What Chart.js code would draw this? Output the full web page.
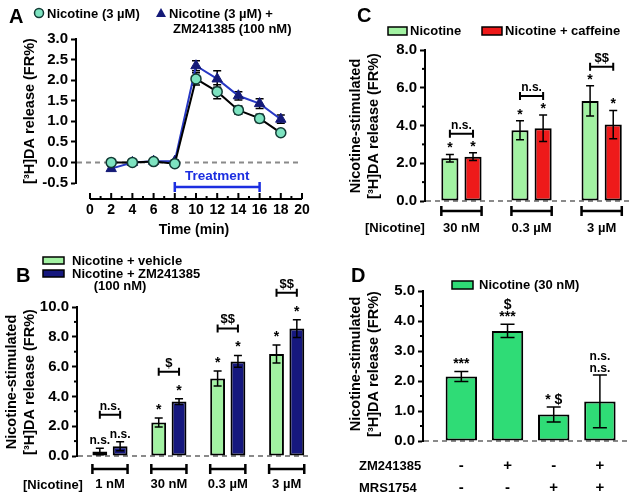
<!DOCTYPE html>
<html>
<head>
<meta charset="utf-8">
<script src="https://cdn.jsdelivr.net/npm/chart.js@4.4.0/dist/chart.umd.min.js"></script>
<style>
html, body { margin: 0; padding: 0; background: #fff; }
#wrap { position: relative; width: 629px; height: 498px; }
#wrap canvas { position: absolute; left: 0; top: 0; }
</style>
</head>
<body>
<div id="wrap">
	<canvas id="panelA" width="629" height="498"></canvas>
	<canvas id="panelB" width="629" height="498"></canvas>
	<canvas id="panelC" width="629" height="498"></canvas>
	<canvas id="panelD" width="629" height="498"></canvas>
</div>
<script>
// ---- data ----
// A: time course
var timeMin = [2, 4, 6, 8, 10, 12, 14, 16, 18];
var timeTicks = [0, 2, 4, 6, 8, 10, 12, 14, 16, 18, 20];
var nicotineA = [0.0, 0.0, 0.02, -0.03, 2.03, 1.72, 1.27, 1.07, 0.72];
var nicotineAErr = [0.03, 0.03, 0.03, 0.03, 0.15, 0.17, 0.10, 0.10, 0.05];
var zmA = [-0.15, 0.0, 0.03, 0.03, 2.35, 2.03, 1.62, 1.43, 1.05];
var zmAErr = [0.05, 0.03, 0.03, 0.03, 0.12, 0.20, 0.10, 0.12, 0.10];

// B: nicotine +/- ZM241385
var dosesB = ['1 nM', '30 nM', '0.3 µM', '3 µM'];
var vehicleB = [0.3, 2.25, 5.2, 6.85];
var vehicleBErr = [0.22, 0.3, 0.5, 0.6];
var zmB = [0.65, 3.65, 6.35, 8.55];
var zmBErr = [0.3, 0.2, 0.4, 0.6];
var vehicleBMarks = ['n.s.', '*', '*', '*'];
var zmBMarks = ['n.s.', '*', '*', '*'];
var pairBMarks = ['n.s.', '$', '$$', '$$'];

// C: nicotine +/- caffeine
var dosesC = ['30 nM', '0.3 µM', '3 µM'];
var nicotineC = [2.27, 3.75, 5.3];
var nicotineCErr = [0.2, 0.5, 0.8];
var caffeineC = [2.35, 3.85, 4.05];
var caffeineCErr = [0.2, 0.7, 0.75];
var nicotineCMarks = ['*', '*', '*'];
var caffeineCMarks = ['*', '*', '*'];
var pairCMarks = ['n.s.', 'n.s.', '$$'];

// D: nicotine 30 nM with ZM241385 / MRS1754
var zmRow = ['-', '+', '-', '+'];
var mrsRow = ['-', '-', '+', '+'];
var nicotineD = [2.15, 3.67, 0.88, 1.32];
var nicotineDErr = [0.17, 0.22, 0.25, 0.88];
var nicotineDMarks = [['***'], ['$', '***'], ['* $'], ['n.s.', 'n.s.']];

var FONT = "'Liberation Sans', Arial, sans-serif";
var tickFont = { family: FONT, size: 15, weight: 'bold' };

function pts(xs, ys) {
	return ys.map(function (v, i) { return { x: xs[i], y: v }; });
}
function idx(ys) {
	return ys.map(function (v, i) { return { x: i, y: v }; });
}

function yAxis(min, max, step, width) {
	return {
		min: min,
		max: max,
		afterFit: function (s) { s.width = width; },
		border: { display: true, color: '#000', width: 2 },
		grid: { drawOnChartArea: false, drawTicks: true, tickLength: 5, tickWidth: 2, tickColor: '#000' },
		ticks: {
			stepSize: step, padding: 3, color: '#000', font: tickFont, autoSkip: false,
			callback: function (v) { return v.toFixed(1); }
		}
	};
}

function txt(ctx, s, x, y, size, align, color, base) {
	ctx.font = 'bold ' + size + 'px ' + FONT;
	ctx.fillStyle = color || '#000';
	ctx.textAlign = align || 'center';
	ctx.textBaseline = base || 'middle';
	ctx.fillText(s, x, y);
}

function vtitle(ctx, lines, xs, yc, size) {
	lines.forEach(function (s, i) {
		ctx.save();
		ctx.translate(xs[i], yc);
		ctx.rotate(-Math.PI / 2);
		txt(ctx, s, 0, 0, size);
		ctx.restore();
	});
}

function minorTicks(chart, step) {
	var ctx = chart.ctx, y = chart.scales.y, x0 = chart.chartArea.left;
	ctx.save();
	ctx.strokeStyle = '#000';
	ctx.lineWidth = 2;
	for (var v = y.min + step; v < y.max; v += 2 * step) {
		var py = y.getPixelForValue(v);
		ctx.beginPath();
		ctx.moveTo(x0 - 3, py);
		ctx.lineTo(x0, py);
		ctx.stroke();
	}
	ctx.restore();
}

function zeroLine(chart) {
	var ctx = chart.ctx, a = chart.chartArea, py = chart.scales.y.getPixelForValue(0);
	ctx.save();
	ctx.strokeStyle = '#8a8a8a';
	ctx.lineWidth = 2;
	ctx.setLineDash([5, 4]);
	ctx.beginPath();
	ctx.moveTo(a.left + 1, py);
	ctx.lineTo(a.right, py);
	ctx.stroke();
	ctx.restore();
}

function errTop(chart, di, errs, i) {
	var v = chart.data.datasets[di].data[i].y;
	return chart.scales.y.getPixelForValue(v + errs[i]);
}

function errorBars(chart, di, errs, cap, color) {
	var ctx = chart.ctx, y = chart.scales.y;
	var meta = chart.getDatasetMeta(di);
	var vals = chart.data.datasets[di].data;
	ctx.save();
	ctx.strokeStyle = color || '#000';
	ctx.lineWidth = 1.5;
	meta.data.forEach(function (el, i) {
		var v = vals[i].y, e = errs[i];
		var top = y.getPixelForValue(v + e), bot = y.getPixelForValue(v - e);
		ctx.beginPath();
		ctx.moveTo(el.x, top); ctx.lineTo(el.x, bot);
		ctx.moveTo(el.x - cap, top); ctx.lineTo(el.x + cap, top);
		ctx.moveTo(el.x - cap, bot); ctx.lineTo(el.x + cap, bot);
		ctx.stroke();
	});
	ctx.restore();
}

// text marks sitting on top of each error bar (lines stacked upward)
function marks(chart, di, errs, labels, gap) {
	var ctx = chart.ctx, meta = chart.getDatasetMeta(di);
	meta.data.forEach(function (el, i) {
		var lines = [].concat(labels[i]);
		var base = errTop(chart, di, errs, i) - gap;
		for (var k = lines.length - 1; k >= 0; k--) {
			var s = lines[k];
			txt(ctx, s, el.x, base, s.indexOf('n.s.') >= 0 ? 12 : 14, 'center', '#000', 'alphabetic');
			base -= 12;
		}
	});
}

// comparison bracket between the two bars of each group
function pairBrackets(chart, errsA, errsB, labels, lift) {
	var ctx = chart.ctx;
	var m0 = chart.getDatasetMeta(0), m1 = chart.getDatasetMeta(1);
	ctx.save();
	ctx.strokeStyle = '#000';
	ctx.lineWidth = 2;
	m0.data.forEach(function (el, i) {
		var x1 = el.x, x2 = m1.data[i].x;
		var py = Math.min(errTop(chart, 0, errsA, i), errTop(chart, 1, errsB, i)) - lift;
		ctx.beginPath();
		ctx.moveTo(x1, py); ctx.lineTo(x2, py);
		ctx.moveTo(x1, py - 4); ctx.lineTo(x1, py + 4);
		ctx.moveTo(x2, py - 4); ctx.lineTo(x2, py + 4);
		ctx.stroke();
		txt(ctx, labels[i], (x1 + x2) / 2, py - 5, labels[i] === 'n.s.' ? 12 : 13, 'center', '#000', 'alphabetic');
	});
	ctx.restore();
}

// dose brackets under the axis with their labels
function groupBrackets(chart, doses, py, ly) {
	var ctx = chart.ctx;
	var m0 = chart.getDatasetMeta(0), m1 = chart.getDatasetMeta(1);
	ctx.save();
	ctx.strokeStyle = '#000';
	ctx.lineWidth = 2.5;
	m0.data.forEach(function (el, i) {
		var x1 = el.x - el.width / 2, x2 = m1.data[i].x + m1.data[i].width / 2;
		ctx.beginPath();
		ctx.moveTo(x1, py); ctx.lineTo(x2, py);
		ctx.moveTo(x1, py - 5); ctx.lineTo(x1, py + 5);
		ctx.moveTo(x2, py - 5); ctx.lineTo(x2, py + 5);
		ctx.stroke();
		txt(ctx, doses[i], (x1 + x2) / 2, ly, 13);
	});
	ctx.restore();
}

function legendBox(ctx, x, y, w, h, fill) {
	ctx.save();
	ctx.fillStyle = fill;
	ctx.strokeStyle = '#000';
	ctx.lineWidth = 1.5;
	ctx.fillRect(x, y, w, h);
	ctx.strokeRect(x, y, w, h);
	ctx.restore();
}

var baseOpts = {
	responsive: false,
	animation: false,
	events: [],
	plugins: { legend: { display: false }, tooltip: { enabled: false } }
};

function opts(padding, xmin, xmax, y) {
	return Object.assign({}, baseOpts, {
		layout: { padding: padding },
		scales: {
			x: { type: 'linear', display: false, offset: false, min: xmin, max: xmax },
			y: y
		}
	});
}

// ---------------- Panel A ----------------
new Chart(document.getElementById('panelA'), {
	type: 'line',
	data: {
		datasets: [
			{
				label: 'Nicotine (3 µM)',
				data: pts(timeMin, nicotineA),
				borderColor: '#000',
				borderWidth: 2,
				pointStyle: 'circle',
				pointRadius: 5,
				pointBackgroundColor: '#7de3c0',
				pointBorderColor: '#123a34',
				pointBorderWidth: 1.5
			},
			{
				label: 'Nicotine (3 µM) + ZM241385 (100 nM)',
				data: pts(timeMin, zmA),
				borderColor: '#2738c4',
				borderWidth: 2,
				pointStyle: 'triangle',
				pointRadius: 6,
				pointBackgroundColor: '#141a78',
				pointBorderColor: '#141a78',
				pointBorderWidth: 1
			}
		]
	},
	options: opts({ left: 26, right: 327, top: 39, bottom: 315 }, -1.32, 20, yAxis(-0.5, 3.0, 0.5, 50)),
	plugins: [{
		id: 'panelA',
		beforeDatasetsDraw: function (chart) {
			zeroLine(chart);
			errorBars(chart, 1, zmAErr, 4, '#000');
			errorBars(chart, 0, nicotineAErr, 4, '#000');
		},
		afterDraw: function (chart) {
			var ctx = chart.ctx, x = chart.scales.x, a = chart.chartArea;
			var axisY = a.bottom + 16;
			// time axis
			ctx.save();
			ctx.strokeStyle = '#000';
			ctx.lineWidth = 2;
			ctx.beginPath();
			ctx.moveTo(x.getPixelForValue(timeTicks[0]), axisY);
			ctx.lineTo(x.getPixelForValue(timeTicks[timeTicks.length - 1]), axisY);
			for (var t = timeTicks[0]; t <= timeTicks[timeTicks.length - 1]; t++) {
				var px = x.getPixelForValue(t);
				ctx.moveTo(px, axisY);
				ctx.lineTo(px, axisY - (t % 2 === 0 ? 6 : 3));
			}
			ctx.stroke();
			ctx.restore();
			timeTicks.forEach(function (t) {
				txt(ctx, String(t), x.getPixelForValue(t), axisY + 11, 14);
			});
			txt(ctx, 'Time (min)', x.getPixelForValue(10) - 2, axisY + 31, 14);

			// treatment period 8-16 min
			var t1 = x.getPixelForValue(8), t2 = x.getPixelForValue(16), ty = a.bottom + 4;
			ctx.save();
			ctx.strokeStyle = '#1c2ee0';
			ctx.lineWidth = 2.5;
			ctx.beginPath();
			ctx.moveTo(t1, ty); ctx.lineTo(t2, ty);
			ctx.moveTo(t1, ty - 5); ctx.lineTo(t1, ty + 5);
			ctx.moveTo(t2, ty - 5); ctx.lineTo(t2, ty + 5);
			ctx.stroke();
			ctx.restore();
			txt(ctx, 'Treatment', (t1 + t2) / 2, ty - 11, 13.5, 'center', '#1c2ee0');

			vtitle(ctx, ['[³H]DA release (FR%)'], [30], (a.top + a.bottom) / 2, 14.5);

			// legend
			txt(ctx, 'A', 9, 17, 20, 'left');
			ctx.save();
			ctx.beginPath();
			ctx.arc(39, 13, 4.5, 0, Math.PI * 2);
			ctx.fillStyle = '#7de3c0';
			ctx.fill();
			ctx.strokeStyle = '#123a34';
			ctx.lineWidth = 1.5;
			ctx.stroke();
			ctx.beginPath();
			ctx.moveTo(161, 8); ctx.lineTo(166, 17); ctx.lineTo(156, 17); ctx.closePath();
			ctx.fillStyle = '#141a78';
			ctx.fill();
			ctx.restore();
			txt(ctx, 'Nicotine (3 µM)', 47, 14, 13, 'left');
			txt(ctx, 'Nicotine (3 µM) +', 169, 14, 13, 'left');
			txt(ctx, 'ZM241385 (100 nM)', 173, 29, 13, 'left');
		}
	}]
});

// ---------------- Panel B ----------------
var lightGreen = '#a2f2a2';
var navy = '#16187e';
new Chart(document.getElementById('panelB'), {
	type: 'bar',
	data: {
		datasets: [
			{ label: 'Nicotine + vehicle', data: idx(vehicleB), backgroundColor: lightGreen },
			{ label: 'Nicotine + ZM241385 (100 nM)', data: idx(zmB), backgroundColor: navy }
		]
	},
	options: Object.assign(opts({ left: 27, right: 317, top: 307, bottom: 42 }, -0.56, 3.43, yAxis(0, 10, 2, 50)), {
		datasets: { bar: { borderColor: '#000', borderWidth: 2, borderSkipped: false, categoryPercentage: 0.69, barPercentage: 0.73 } }
	}),
	plugins: [{
		id: 'panelB',
		beforeDatasetsDraw: function (chart) {
			minorTicks(chart, 1);
			zeroLine(chart);
		},
		afterDatasetsDraw: function (chart) {
			var ctx = chart.ctx, a = chart.chartArea;
			errorBars(chart, 0, vehicleBErr, 4);
			errorBars(chart, 1, zmBErr, 4);
			marks(chart, 0, vehicleBErr, vehicleBMarks, 4);
			marks(chart, 1, zmBErr, zmBMarks, 4);
			pairBrackets(chart, vehicleBErr, zmBErr, pairBMarks, 27);
			groupBrackets(chart, dosesB, a.bottom + 13, a.bottom + 28);
			txt(ctx, '[Nicotine]', 23, a.bottom + 29, 13, 'left');
			vtitle(ctx, ['Nicotine-stimulated', '[³H]DA release (FR%)'], [12, 30], 382, 14.5);

			txt(ctx, 'B', 16, 276, 20, 'left');
			legendBox(ctx, 43, 257, 21, 7, lightGreen);
			legendBox(ctx, 43, 270, 21, 7, navy);
			txt(ctx, 'Nicotine + vehicle', 72, 261, 13, 'left');
			txt(ctx, 'Nicotine + ZM241385', 72, 274, 13, 'left');
			txt(ctx, '(100 nM)', 120, 286, 13);
		}
	}]
});

// ---------------- Panel C ----------------
var red = '#ee1a1a';
new Chart(document.getElementById('panelC'), {
	type: 'bar',
	data: {
		datasets: [
			{ label: 'Nicotine', data: idx(nicotineC), backgroundColor: lightGreen },
			{ label: 'Nicotine + caffeine', data: idx(caffeineC), backgroundColor: red }
		]
	},
	options: Object.assign(opts({ left: 375, right: 0, top: 50, bottom: 297 }, -0.52, 2.39, yAxis(0, 8, 2, 50)), {
		datasets: { bar: { borderColor: '#000', borderWidth: 2, borderSkipped: false, categoryPercentage: 0.66, barPercentage: 0.74 } }
	}),
	plugins: [{
		id: 'panelC',
		beforeDatasetsDraw: function (chart) {
			minorTicks(chart, 1);
			zeroLine(chart);
		},
		afterDatasetsDraw: function (chart) {
			var ctx = chart.ctx, a = chart.chartArea;
			errorBars(chart, 0, nicotineCErr, 4);
			errorBars(chart, 1, caffeineCErr, 4);
			marks(chart, 0, nicotineCErr, nicotineCMarks, 2);
			marks(chart, 1, caffeineCErr, caffeineCMarks, 2);
			pairBrackets(chart, nicotineCErr, caffeineCErr, pairCMarks, 19);
			groupBrackets(chart, dosesC, a.bottom + 10, a.bottom + 27);
			txt(ctx, '[Nicotine]', 365, a.bottom + 27, 13, 'left');
			vtitle(ctx, ['Nicotine-stimulated', '[³H]DA release (FR%)'], [356, 374], 126, 14.5);

			txt(ctx, 'C', 357, 16, 20, 'left');
			legendBox(ctx, 388, 27, 19, 8, lightGreen);
			legendBox(ctx, 482, 27, 20, 8, red);
			txt(ctx, 'Nicotine', 410, 31, 13, 'left');
			txt(ctx, 'Nicotine + caffeine', 505, 31, 13, 'left');
		}
	}]
});

// ---------------- Panel D ----------------
var green = '#2fdc76';
new Chart(document.getElementById('panelD'), {
	type: 'bar',
	data: {
		datasets: [
			{ label: 'Nicotine (30 nM)', data: idx(nicotineD), backgroundColor: green }
		]
	},
	options: Object.assign(opts({ left: 373, right: 0, top: 291, bottom: 57 }, -0.83, 3.63, yAxis(0, 5, 1, 50)), {
		datasets: { bar: { borderColor: '#000', borderWidth: 2, borderSkipped: false, categoryPercentage: 0.68, barPercentage: 1 } }
	}),
	plugins: [{
		id: 'panelD',
		beforeDatasetsDraw: function (chart) {
			minorTicks(chart, 0.5);
			zeroLine(chart);
		},
		afterDatasetsDraw: function (chart) {
			var ctx = chart.ctx;
			errorBars(chart, 0, nicotineDErr, 7);
			marks(chart, 0, nicotineDErr, nicotineDMarks, 3);
			chart.getDatasetMeta(0).data.forEach(function (el, i) {
				txt(ctx, zmRow[i], el.x, 466, 15);
				txt(ctx, mrsRow[i], el.x, 488, 15);
			});
			txt(ctx, 'ZM241385', 359, 466, 13, 'left');
			txt(ctx, 'MRS1754', 359, 488, 13, 'left');
			vtitle(ctx, ['Nicotine-stimulated', '[³H]DA release (FR%)'], [356, 374], 364, 14.5);

			txt(ctx, 'D', 351, 276, 20, 'left');
			legendBox(ctx, 452, 281, 21, 8, green);
			txt(ctx, 'Nicotine (30 nM)', 479, 285, 13, 'left');
		}
	}]
});
</script>
</body>
</html>
